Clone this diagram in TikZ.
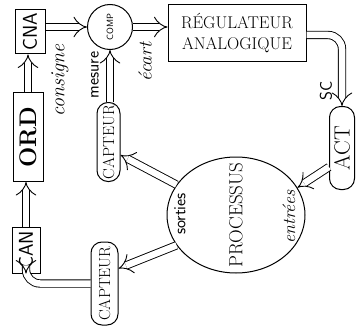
\documentclass[tikz,border=0pt]{standalone}
\usepackage{fontspec}
\usetikzlibrary{arrows.meta,shapes.geometric}
\newcommand{\fs}[1]{\fontsize{#1}{#1}\selectfont}

\begin{document}
\begin{tikzpicture}[x=1pt,y=-1pt,
    box/.style={draw,line width=1pt,inner sep=0pt},
    sonde/.style={box,rounded corners=11pt},
    pipe/.style={double,double distance=6.5pt,line width=0.9pt,-{Implies}}]
  \useasboundingbox (0,0) rectangle (356,329);
  % blocs
  \node[box,minimum width=30pt,minimum height=44pt,label={[rotate=90,font=\sffamily\fs{20}]center:CNA}] (cna) at (30,32) {};
  \node[box,minimum width=30pt,minimum height=89pt,label={[rotate=90,font=\bfseries\fs{24}]center:ORD}] (ord) at (28,137) {};
  \node[box,minimum width=28pt,minimum height=46pt,label={[rotate=90,font=\sffamily\fs{20}]center:CAN}] (can) at (26,250) {};
  \node[box,circle,minimum size=45pt,label={[rotate=90,font=\sffamily\fs{9}]center:COMP}] (comp) at (110,27) {};
  \node[box,minimum width=138pt,minimum height=57pt,align=center,font=\fontsize{17}{21}\selectfont] (reg) at (237,33.5) {RÉGULATEUR\\ANALOGIQUE};
  \node[sonde,minimum width=25pt,minimum height=83pt,label={[rotate=90,font=\fs{22}]center:ACT}] (act) at (342,148) {};
  \node[sonde,minimum width=23pt,minimum height=79pt,label={[rotate=90,font=\fs{16}]center:CAPTEUR}] (capt1) at (108.5,142) {};
  \node[sonde,minimum width=27pt,minimum height=83pt,label={[rotate=90,font=\fs{16}]center:CAPTEUR}] (capt2) at (104.5,283.5) {};
  \node[box,ellipse,minimum width=138pt,minimum height=116pt,label={[rotate=90,font=\fs{19}]center:PROCESSUS}] (proc) at (236,215) {};
  % liaisons
  \draw[pipe] (ord.north) -- (ord.north |- cna.south);
  \draw[pipe] (can.north) -- (can.north |- ord.south);
  \draw[pipe] (comp.west -| cna.east) -- (comp.west);
  \draw[pipe] (comp.east) -- (comp.east -| reg.west);
  \draw[pipe] (comp.south |- capt1.north) -- (comp.south);
  \draw[pipe,rounded corners=14pt] ([yshift=-1.5pt]reg.east) -| (act.north);
  \draw[pipe] ([yshift=-19pt]act.west) -- (proc.24);
  \draw[pipe] (proc.153) -- ([yshift=-13pt]capt1.east);
  \draw[pipe] (proc.207) -- ([yshift=15pt]capt2.east);
  \draw[pipe,rounded corners=14pt] (capt2.west) -| (can.south);
  % textes
  \node[rotate=90,font=\itshape\fs{20}] (consigne) at (60,80) {consigne};
  \node[rotate=90,font=\sffamily\fs{17}] (mesure) at (95,75) {mesure};
  \node[rotate=90,font=\itshape\fs{19}] (ecart) at (145,62) {écart};
  \node[rotate=90,font=\sffamily\fs{17}] (sc) at (326,91) {SC};
  \node[rotate=90,font=\sffamily\fs{17}] (sorties) at (180,214) {sorties};
  \node[rotate=90,font=\itshape\fs{18}] (entrees) at (289,217) {entrées};
\end{tikzpicture}
\end{document}
